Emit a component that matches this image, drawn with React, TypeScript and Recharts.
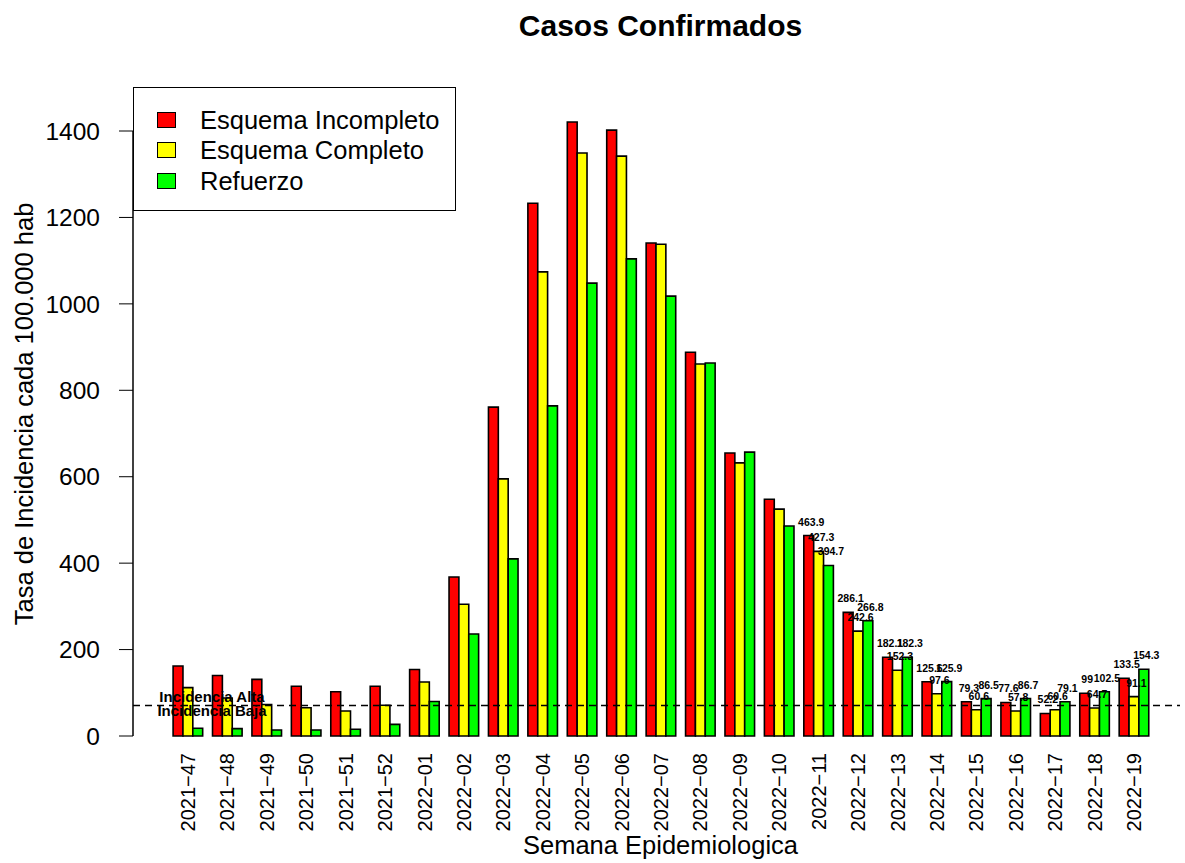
import React from 'react';
import { BarChart, Bar, XAxis, YAxis, ReferenceLine, Legend, LabelList } from 'recharts';

const FONT = '"Liberation Sans", Arial, Helvetica, sans-serif';

const weeks = [
  '2021-47', '2021-48', '2021-49', '2021-50', '2021-51', '2021-52',
  '2022-01', '2022-02', '2022-03', '2022-04', '2022-05', '2022-06',
  '2022-07', '2022-08', '2022-09', '2022-10', '2022-11', '2022-12',
  '2022-13', '2022-14', '2022-15', '2022-16', '2022-17', '2022-18', '2022-19',
];

const esquemaIncompleto = [162, 140, 131, 115, 102.5, 115, 154, 368, 761, 1233, 1421, 1402, 1141, 888, 655, 548, 463.9, 286.1, 182.1, 125.6, 79.3, 77.6, 52.2, 99, 133.5];
const esquemaCompleto = [112, 88, 73, 65.5, 58, 71, 125, 305, 595, 1074, 1349, 1342, 1138, 861, 632, 525, 427.3, 242.6, 152.3, 97.6, 60.6, 57.8, 60.6, 64.7, 91.1];
const refuerzo = [18, 17, 14, 14, 15.5, 27, 80, 236, 410, 764, 1048, 1104, 1018, 863, 657, 486, 394.7, 266.8, 182.3, 125.9, 86.5, 86.7, 79.1, 102.5, 154.3];

const firstLabeledWeek = '2022-11';
const yTicks = [0, 200, 400, 600, 800, 1000, 1200, 1400];
const yDomainMax = 1500;
const incidenceThreshold = 70.7;

const seriesKeys = ['incompleto', 'completo', 'refuerzo'];
const seriesNames = ['Esquema Incompleto', 'Esquema Completo', 'Refuerzo'];
const seriesColors = ['#FF0000', '#FFFF00', '#00FF00'];

const title = 'Casos Confirmados';
const xTitle = 'Semana Epidemiologica';
const yTitle = 'Tasa de Incidencia cada 100.000 hab';
const thresholdLabels = ['Incidencia Alta', 'Incidencia Baja'];

const labelStart = weeks.indexOf(firstLabeledWeek);
const data = weeks.map((w, i) => ({
  week: w.replace('-', '\u2212'),
  incompleto: esquemaIncompleto[i],
  completo: esquemaCompleto[i],
  refuerzo: refuerzo[i],
  incompletoLabel: i >= labelStart ? esquemaIncompleto[i] : null,
  completoLabel: i >= labelStart ? esquemaCompleto[i] : null,
  refuerzoLabel: i >= labelStart ? refuerzo[i] : null,
}));

const renderWeekTick = (props: any) => {
  const { x, y, payload } = props;
  return (
    <text
      x={x}
      y={y}
      transform={`rotate(-90, ${x}, ${y})`}
      textAnchor="end"
      dy="0.36em"
      fontSize={20}
      fontFamily={FONT}
      fill="#000"
    >
      {payload.value}
    </text>
  );
};

const renderValueLabel = (props: any) => {
  const { value } = props;
  if (value === null || value === undefined) return null;
  const vb = props.viewBox && props.viewBox.width !== undefined ? props.viewBox : props;
  const x = Number(vb.x) + Number(vb.width) / 2 + 2.5;
  const y = Number(vb.y) - 10;
  return (
    <text x={x} y={y} textAnchor="middle" fontSize={10.5} fontWeight="bold" fontFamily={FONT} fill="#000">
      {String(value)}
    </text>
  );
};

const renderThresholdLabel = (props: any) => {
  const vb = props.viewBox || {};
  const cx = vb.x + 79;
  return (
    <g>
      <text x={cx} y={vb.y - 3} textAnchor="middle" fontSize={15} fontWeight="bold" fontFamily={FONT} fill="#000">
        {thresholdLabels[0]}
      </text>
      <text x={cx} y={vb.y + 10.5} textAnchor="middle" fontSize={15} fontWeight="bold" fontFamily={FONT} fill="#000">
        {thresholdLabels[1]}
      </text>
    </g>
  );
};

const renderXTitle = (props: any) => {
  const vb = props.viewBox;
  return (
    <text x={vb.x + vb.width / 2 + 4} y={vb.y + vb.height + 38} textAnchor="middle" fontSize={25.5} fontFamily={FONT} fill="#000">
      {xTitle}
    </text>
  );
};

const renderYTitle = (props: any) => {
  const vb = props.viewBox;
  const x = vb.x - 39.5;
  const y = vb.y + vb.height / 2 + 2;
  return (
    <text x={x} y={y} transform={`rotate(-90, ${x}, ${y})`} textAnchor="middle" fontSize={25.5} fontFamily={FONT} fill="#000">
      {yTitle}
    </text>
  );
};

const renderLegend = () => (
  <div
    style={{
      position: 'relative',
      width: 323,
      height: 124,
      border: '1.5px solid #000',
      boxSizing: 'border-box',
      background: '#fff',
      fontFamily: FONT,
    }}
  >
    {seriesNames.map((name, i) => (
      <React.Fragment key={name}>
        <div
          style={{
            position: 'absolute',
            left: 23,
            top: 23.5 + i * 30.8,
            width: 19,
            height: 16,
            background: seriesColors[i],
            border: '1.5px solid #000',
            boxSizing: 'border-box',
          }}
        />
        <div
          style={{
            position: 'absolute',
            left: 66,
            top: 16.5 + i * 30.8,
            fontSize: 25.5,
            lineHeight: '30px',
            whiteSpace: 'nowrap',
            color: '#000',
          }}
        >
          {name}
        </div>
      </React.Fragment>
    ))}
  </div>
);

export default function App() {
  return (
    <div style={{ position: 'absolute', left: 0, top: 0, width: 1185, height: 863, background: '#fff', fontFamily: FONT }}>
      <div
        style={{
          position: 'absolute',
          left: 360.5,
          top: 10.5,
          width: 600,
          textAlign: 'center',
          fontSize: 30,
          lineHeight: '30px',
          fontWeight: 'bold',
          color: '#000',
          zIndex: 2,
        }}
      >
        {title}
      </div>
      <BarChart
        width={1185}
        height={863}
        data={data}
        margin={{ top: 87.8, right: 5, bottom: 47, left: 73 }}
        barCategoryGap="12.5%"
        barGap={0}
      >
        <XAxis
          dataKey="week"
          interval={0}
          axisLine={false}
          tickLine={false}
          tickSize={0}
          tickMargin={17}
          height={80}
          padding={{ left: 35.1, right: 26.4 }}
          tick={renderWeekTick}
          label={renderXTitle}
        />
        <XAxis xAxisId="num" type="number" domain={[0, 1]} hide />
        <YAxis
          domain={[0, yDomainMax]}
          ticks={yTicks}
          width={60}
          axisLine={false}
          stroke="#000"
          tickSize={14}
          tickMargin={19}
          tick={{ fill: '#000', fontSize: 24.5, fontFamily: FONT }}
          label={renderYTitle}
        />
        <Legend
          layout="vertical"
          align="center"
          verticalAlign="middle"
          wrapperStyle={{ left: 133, top: 87, width: 323, height: 124 }}
          content={renderLegend}
        />
        {seriesKeys.map((k, i) => (
          <Bar
            key={k}
            dataKey={k}
            name={seriesNames[i]}
            fill={seriesColors[i]}
            stroke="#000"
            strokeWidth={1.6}
            barSize={9.86}
            isAnimationActive={false}
          >
            <LabelList dataKey={`${k}Label`} content={renderValueLabel} />
          </Bar>
        ))}
        <ReferenceLine
          xAxisId="num"
          segment={[{ x: 0, y: 0 }, { x: 0, y: yTicks[yTicks.length - 1] }]}
          stroke="#000"
          strokeWidth={1.5}
        />
        <ReferenceLine
          xAxisId="num"
          y={incidenceThreshold}
          stroke="#000"
          strokeWidth={1.5}
          strokeDasharray="7 5"
          label={renderThresholdLabel}
        />
      </BarChart>
    </div>
  );
}
